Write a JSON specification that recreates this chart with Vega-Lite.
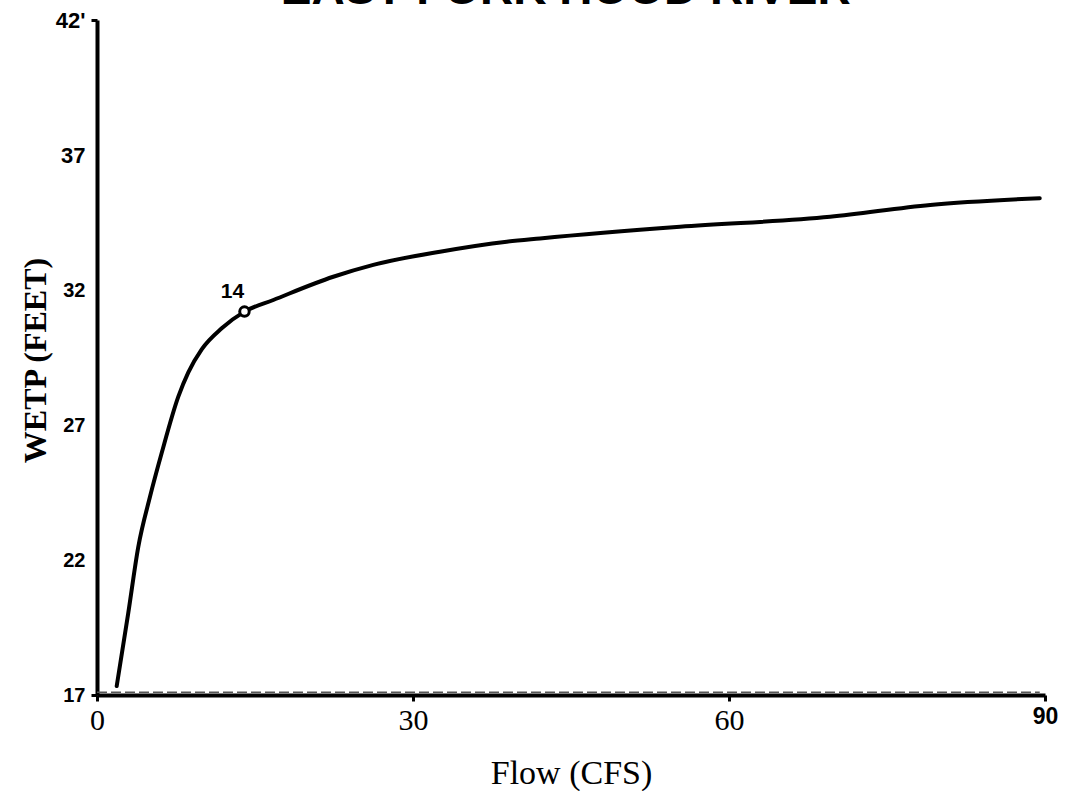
{
  "$schema": "https://vega.github.io/schema/vega-lite/v6.json",
  "width": 948,
  "height": 675,
  "autosize": {"type": "none"},
  "padding": {"left": 97, "top": 20, "right": 21, "bottom": 96},
  "background": "white",
  "config": {"view": {"stroke": null}},
  "datasets": {
    "curve": [
      {"flow": 1.87, "wetp": 17.33},
      {"flow": 2.97, "wetp": 20.04},
      {"flow": 3.92, "wetp": 22.49},
      {"flow": 5.03, "wetp": 24.34},
      {"flow": 6.14, "wetp": 25.96},
      {"flow": 7.72, "wetp": 28.05},
      {"flow": 8.67, "wetp": 28.95},
      {"flow": 9.94, "wetp": 29.8},
      {"flow": 11.84, "wetp": 30.58},
      {"flow": 14.0, "wetp": 31.2},
      {"flow": 16.74, "wetp": 31.63},
      {"flow": 22.43, "wetp": 32.49},
      {"flow": 26.23, "wetp": 32.93},
      {"flow": 32.56, "wetp": 33.42},
      {"flow": 38.9, "wetp": 33.79},
      {"flow": 42.06, "wetp": 33.91},
      {"flow": 55.35, "wetp": 34.34},
      {"flow": 69.6, "wetp": 34.71},
      {"flow": 79.1, "wetp": 35.15},
      {"flow": 89.5, "wetp": 35.4}
    ],
    "marker": [{"flow": 14, "wetp": 31.2, "label": "14"}],
    "heading": [{"text": "EAST FORK HOOD RIVER"}]
  },
  "layer": [
    {
      "data": {"name": "curve"},
      "mark": {"type": "line", "color": "black", "strokeWidth": 4, "interpolate": "monotone", "strokeCap": "round"},
      "encoding": {
        "x": {
          "field": "flow",
          "type": "quantitative",
          "scale": {"domain": [0, 90], "nice": false},
          "axis": {
            "values": [0, 30, 60, 90],
            "title": "Flow (CFS)",
            "grid": false,
            "labelFlush": false,
            "domainColor": "black",
            "domainWidth": 4,
            "tickColor": "black",
            "tickWidth": 3,
            "tickSize": 6,
            "labelPadding": 4,
            "labelColor": "black",
            "labelFont": {"condition": {"test": "datum.value == 90", "value": "Liberation Sans"}, "value": "Liberation Serif"},
            "labelFontWeight": {"condition": {"test": "datum.value == 90", "value": 900}, "value": "normal"},
            "labelFontSize": {"condition": {"test": "datum.value == 90", "value": 23}, "value": 30},
            "titleFont": "Liberation Serif",
            "titleFontSize": 34,
            "titleFontWeight": "normal",
            "titleColor": "black",
            "titleBaseline": "alphabetic",
            "titleY": 88
          }
        },
        "y": {
          "field": "wetp",
          "type": "quantitative",
          "scale": {"domain": [17, 42], "nice": false, "zero": false},
          "axis": {
            "values": [17, 22, 27, 32, 37, 42],
            "title": "WETP (FEET)",
            "grid": false,
            "labelFlush": false,
            "labelExpr": "datum.value == 42 ? \"42'\" : datum.label",
            "domainColor": "black",
            "domainWidth": 4,
            "tickColor": "black",
            "tickWidth": 3,
            "tickSize": 6,
            "tickOpacity": {"condition": {"test": "datum.value == 42 || datum.value == 17", "value": 1}, "value": 0},
            "labelPadding": 6,
            "labelColor": "black",
            "labelFont": "Liberation Sans",
            "labelFontWeight": {"condition": {"test": "datum.value == 37", "value": 900}, "value": "bold"},
            "labelFontSize": {"condition": {"test": "datum.value == 37 || datum.value == 42", "value": 22}, "value": 20},
            "titleFont": "Liberation Serif",
            "titleFontSize": 32,
            "titleFontWeight": "bold",
            "titleColor": "black",
            "titleBaseline": "alphabetic",
            "titleX": -52,
            "titleY": 340
          }
        }
      }
    },
    {
      "data": {"name": "marker"},
      "mark": {"type": "point", "shape": "circle", "filled": false, "fill": "white", "fillOpacity": 1, "stroke": "black", "strokeWidth": 3, "size": 90, "opacity": 1},
      "encoding": {
        "x": {"field": "flow", "type": "quantitative"},
        "y": {"field": "wetp", "type": "quantitative"}
      }
    },
    {
      "data": {"name": "marker"},
      "mark": {"type": "text", "dx": -12, "dy": -20, "font": "Liberation Sans", "fontWeight": "bold", "fontSize": 21, "color": "black"},
      "encoding": {
        "x": {"field": "flow", "type": "quantitative"},
        "y": {"field": "wetp", "type": "quantitative"},
        "text": {"field": "label"}
      }
    },
    {
      "data": {"name": "heading"},
      "mark": {"type": "text", "font": "Liberation Sans", "fontWeight": "bold", "fontSize": 46, "color": "black", "align": "center", "baseline": "alphabetic", "clip": false},
      "encoding": {
        "x": {"datum": 44.5},
        "y": {"datum": 42.6},
        "text": {"field": "text"}
      }
    },
    {
      "data": {"values": [{}]},
      "mark": {"type": "rule", "strokeDash": [10, 4], "strokeWidth": 1.5, "color": "#555"},
      "encoding": {
        "y": {"datum": 17.1},
        "x": {"datum": 0},
        "x2": {"datum": 89.5}
      }
    }
  ]
}
